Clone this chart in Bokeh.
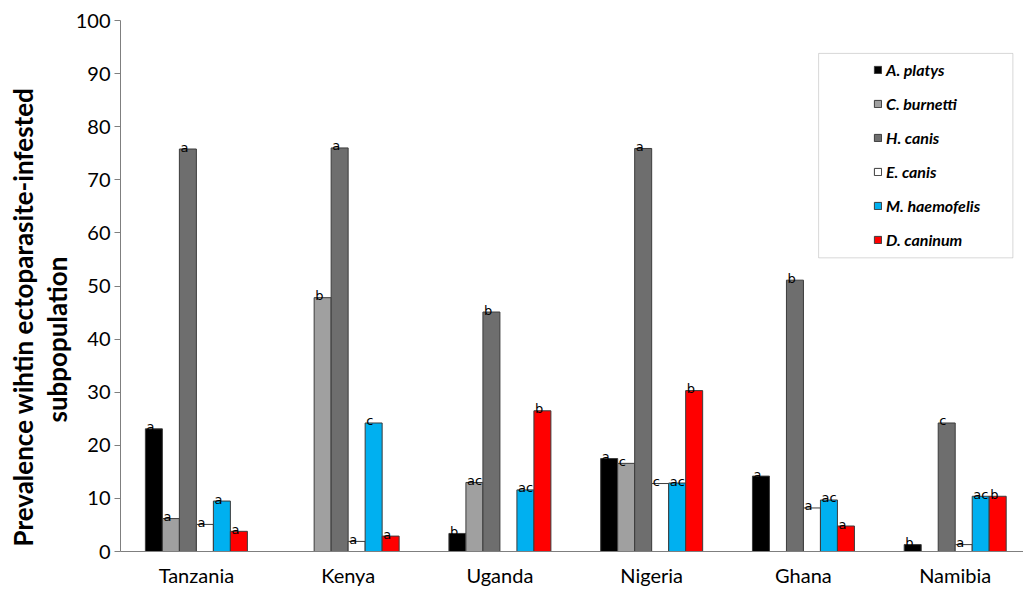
from bokeh.plotting import figure
from bokeh.models import (ColumnDataSource, Range1d, FixedTicker, Legend, LegendItem,
                          BoxAnnotation, Title)
from bokeh.core.properties import value
from bokeh.embed import file_html
from bokeh.resources import INLINE

countries = ["Tanzania", "Kenya", "Uganda", "Nigeria", "Ghana", "Namibia"]
species = ["A. platys", "C. burnetti", "H. canis", "E. canis", "M. haemofelis", "D. caninum"]
colors = ["#000000", "#a0a0a0", "#6e6e6e", "#ffffff", "#00b0f0", "#ff0000"]

a_platys = [23.1, 0.0, 3.4, 17.5, 14.2, 1.3]
c_burnetti = [6.2, 47.8, 13.0, 16.6, 0.0, 0.0]
h_canis = [75.8, 76.0, 45.1, 75.9, 51.1, 24.2]
e_canis = [5.1, 1.9, 0.0, 12.8, 8.2, 1.3]
m_haemofelis = [9.5, 24.2, 11.6, 12.9, 9.7, 10.4]
d_caninum = [3.8, 2.9, 26.5, 30.3, 4.8, 10.4]

lab_a_platys = ["a", "", "b", "a", "a", "b"]
lab_c_burnetti = ["a", "b", "ac", "c", "", ""]
lab_h_canis = ["a", "a", "b", "a", "b", "c"]
lab_e_canis = ["a", "a", "", "c", "a", "a"]
lab_m_haemofelis = ["a", "c", "ac", "ac", "ac", "ac"]
lab_d_caninum = ["a", "a", "b", "b", "a", "b"]

series = [a_platys, c_burnetti, h_canis, e_canis, m_haemofelis, d_caninum]
labels = [lab_a_platys, lab_c_burnetti, lab_h_canis, lab_e_canis, lab_m_haemofelis, lab_d_caninum]

yticks = [0, 10, 20, 30, 40, 50, 60, 70, 80, 90, 100]
ytitle_lines = ["Prevalence wihtin ectoparasite-infested", "subpopulation"]

BW = 0.112

p = figure(width=1023, height=589, output_backend="svg", toolbar_location=None,
           x_range=Range1d(0, 5.95), y_range=Range1d(0, 100),
           min_border_left=120, min_border_top=20, min_border_bottom=37, min_border_right=0)
p.outline_line_color = None
p.xgrid.visible = False
p.ygrid.visible = False
p.background_fill_color = "white"

items = []
for k, (name, col, vals, labs) in enumerate(zip(species, colors, series, labels)):
    xs = [i + 0.5 + (k - 2.5) * BW for i in range(len(countries))]
    src = ColumnDataSource(dict(x=xs, top=vals, lab=labs,
                                left=[x - BW / 2 for x in xs]))
    r = p.vbar(x="x", top="top", width=BW, source=src, fill_color=col,
               line_color="#3c3c3c", line_width=1)
    p.text(x="left", y="top", text="lab", source=src, text_align="left",
           text_baseline="alphabetic", x_offset=1, y_offset=-2,
           text_font_size=value("13px"), text_font=value("DejaVu Sans"),
           text_color="#000000")
    items.append(LegendItem(label=name, renderers=[r]))

box = BoxAnnotation(left=4.60, right=5.88, bottom=55.3, top=93.8,
                    fill_color="white", fill_alpha=1.0,
                    line_color="#7f7f7f", line_width=1, level="underlay")
p.add_layout(box)

legend = Legend(items=items, location=(753, 302), orientation="vertical",
                glyph_width=9, glyph_height=9, label_height=20, spacing=14,
                label_standoff=4, padding=0, margin=0,
                border_line_alpha=0, background_fill_alpha=0,
                label_text_font="Lato", label_text_font_style="bold italic",
                label_text_font_size="16px", label_text_color="black")
p.add_layout(legend)

# y axis
p.yaxis.ticker = FixedTicker(ticks=yticks)
p.yaxis.minor_tick_line_color = None
p.yaxis.major_tick_out = 6
p.yaxis.major_tick_in = 0
p.yaxis.axis_line_color = "#7f7f7f"
p.yaxis.major_tick_line_color = "#7f7f7f"
p.yaxis.major_label_text_font = "Lato"
p.yaxis.major_label_text_font_size = "20px"
p.yaxis.major_label_text_color = "black"
p.yaxis.major_label_standoff = 4

# y title: two lines, placed bottom-aligned like the reference
t2 = Title(text=ytitle_lines[1], align="left", offset=129, standoff=0,
           text_font="Lato", text_font_style="bold", text_font_size="26px",
           text_color="black")
t1 = Title(text=ytitle_lines[0], align="left", offset=5, standoff=0,
           text_font="Lato", text_font_style="bold", text_font_size="26px",
           text_color="black")
p.add_layout(t2, "left")
p.add_layout(t1, "left")

# x axis
p.xaxis.ticker = FixedTicker(ticks=[i + 0.5 for i in range(len(countries))])
p.xaxis.major_label_overrides = {i + 0.5: c for i, c in enumerate(countries)}
p.xaxis.major_tick_line_color = None
p.xaxis.major_tick_out = 0
p.xaxis.major_tick_in = 0
p.xaxis.minor_tick_line_color = None
p.xaxis.axis_line_color = "#7f7f7f"
p.xaxis.major_label_text_font = "Lato"
p.xaxis.major_label_text_font_size = "20px"
p.xaxis.major_label_text_color = "black"
p.xaxis.major_label_standoff = 11

open("out.html", "w").write(file_html(p, INLINE))
